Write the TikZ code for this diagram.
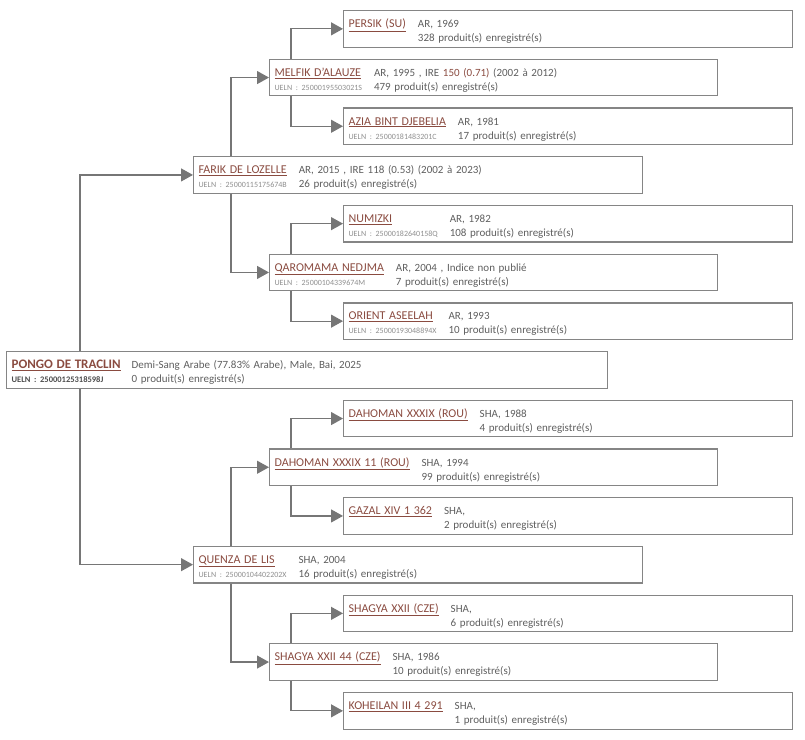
\documentclass[tikz,border=0pt]{standalone}
\usepackage{fontspec}
\setmainfont{Carlito}
\usetikzlibrary{arrows.meta}

\definecolor{boxgray}{HTML}{858585}
\definecolor{linkgray}{HTML}{767676}
\definecolor{infogray}{HTML}{5E5E5E}
\definecolor{uelngray}{HTML}{8E8E8E}
\definecolor{namebrown}{HTML}{8A4B40}

% name / ueln on the left, infos on the right
\newcommand\cheval[4]{\begin{tabular}{@{}l@{\hspace{12pt}}l@{}}
  \rule{0pt}{15.8pt}{\fontsize{12}{14}\selectfont\color{namebrown}\underline{#1}} & #3\\
  {\fontsize{8}{14}\selectfont\color{uelngray}#2} & #4
\end{tabular}}

\begin{document}
\begin{tikzpicture}[x=1pt,y=-1pt,
    every node/.style = {draw=boxgray, line width=1.2pt, anchor=north west,
      inner xsep=5pt, inner ysep=0pt, minimum height=36.5pt,
      text=infogray, font=\fontsize{11}{14}\selectfont, align=left},
    racine/.style = {text width=591pt},
    gen1/.style   = {text width=439pt},
    gen2/.style   = {text width=438pt},
    gen3/.style   = {text width=439pt},
    link/.style   = {draw=linkgray, line width=1.2pt,
      -{Triangle[length=12pt,width=13pt]}},
  ]
  \useasboundingbox (0,0) rectangle (805,739);

  % sire side
  \node[gen3] (persik) at (343,10)
    {\cheval{PERSIK (SU)}{}{AR, 1969}{328 produit(s) enregistré(s)}};
  \node[gen2] (melfik) at (269,58.7)
    {\cheval{MELFIK D'ALAUZE}{UELN : 25000195503021S}
      {AR, 1995 , IRE {\color{namebrown}150 (0.71)} (2002 à 2012)}
      {479 produit(s) enregistré(s)}};
  \node[gen3] (azia) at (343,107.4)
    {\cheval{AZIA BINT DJEBELIA}{UELN : 25000181483201C}{AR, 1981}
      {17 produit(s) enregistré(s)}};
  \node[gen1] (farik) at (193,156.1)
    {\cheval{FARIK DE LOZELLE}{UELN : 25000115175674B}
      {AR, 2015 , IRE 118 (0.53) (2002 à 2023)}
      {26 produit(s) enregistré(s)}};
  \node[gen3] (numizki) at (343,204.8)
    {\cheval{NUMIZKI}{UELN : 25000182640158Q}{AR, 1982}
      {108 produit(s) enregistré(s)}};
  \node[gen2] (qaromama) at (269,253.6)
    {\cheval{QAROMAMA NEDJMA}{UELN : 25000104339674M}
      {AR, 2004 , Indice non publié}{7 produit(s) enregistré(s)}};
  \node[gen3] (orient) at (343,302.3)
    {\cheval{ORIENT ASEELAH}{UELN : 25000193048894X}{AR, 1993}
      {10 produit(s) enregistré(s)}};

  % the horse itself
  \node[racine] (pongo) at (6,351)
    {\begin{tabular}{@{}l@{\hspace{11pt}}l@{}}
      \rule{0pt}{15.8pt}{\fontsize{13}{14}\selectfont\bfseries\color{namebrown}\underline{PONGO DE TRACLIN}}
        & Demi-Sang Arabe (77.83\% Arabe), Male, Bai, 2025\\
      {\fontsize{8.5}{14}\selectfont\bfseries\color{black!70}UELN : 25000125318598J}
        & 0 produit(s) enregistré(s)
    \end{tabular}};

  % dam side
  \node[gen3] (dahoman) at (343,399.7)
    {\cheval{DAHOMAN XXXIX (ROU)}{}{SHA, 1988}{4 produit(s) enregistré(s)}};
  \node[gen2] (dahomanxi) at (269,448.4)
    {\cheval{DAHOMAN XXXIX 11 (ROU)}{}{SHA, 1994}
      {99 produit(s) enregistré(s)}};
  \node[gen3] (gazal) at (343,497.1)
    {\cheval{GAZAL XIV 1 362}{}{SHA,}{2 produit(s) enregistré(s)}};
  \node[gen1] (quenza) at (193,545.8)
    {\cheval{QUENZA DE LIS}{UELN : 25000104402202X}{SHA, 2004}
      {16 produit(s) enregistré(s)}};
  \node[gen3] (shagyaxxii) at (343,594.5)
    {\cheval{SHAGYA XXII (CZE)}{}{SHA,}{6 produit(s) enregistré(s)}};
  \node[gen2] (shagya) at (269,643.2)
    {\cheval{SHAGYA XXII 44 (CZE)}{}{SHA, 1986}
      {10 produit(s) enregistré(s)}};
  \node[gen3] (koheilan) at (343,692)
    {\cheval{KOHEILAN III 4 291}{}{SHA,}{1 produit(s) enregistré(s)}};

  % connectors
  \draw[link] ([xshift=74pt]pongo.north west) |- (farik.west);
  \draw[link] ([xshift=74pt]pongo.south west) |- (quenza.west);
  \draw[link] ([xshift=38pt]farik.north west) |- (melfik.west);
  \draw[link] ([xshift=38pt]farik.south west) |- (qaromama.west);
  \draw[link] ([xshift=38pt]quenza.north west) |- (dahomanxi.west);
  \draw[link] ([xshift=38pt]quenza.south west) |- (shagya.west);
  \draw[link] ([xshift=22pt]melfik.north west) |- (persik.west);
  \draw[link] ([xshift=22pt]melfik.south west) |- (azia.west);
  \draw[link] ([xshift=22pt]qaromama.north west) |- (numizki.west);
  \draw[link] ([xshift=22pt]qaromama.south west) |- (orient.west);
  \draw[link] ([xshift=22pt]dahomanxi.north west) |- (dahoman.west);
  \draw[link] ([xshift=22pt]dahomanxi.south west) |- (gazal.west);
  \draw[link] ([xshift=22pt]shagya.north west) |- (shagyaxxii.west);
  \draw[link] ([xshift=22pt]shagya.south west) |- (koheilan.west);
\end{tikzpicture}
\end{document}
